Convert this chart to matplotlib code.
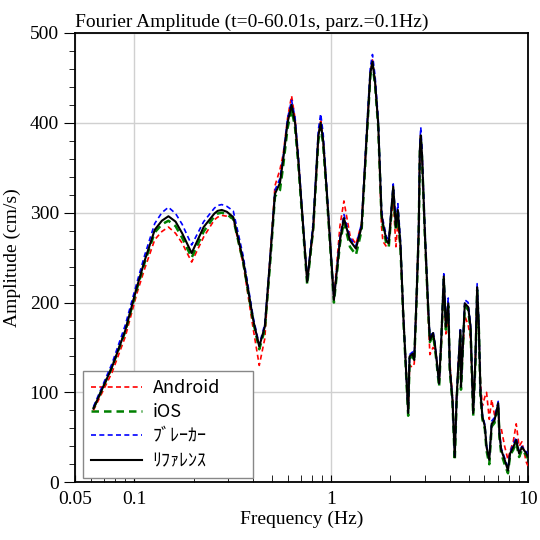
import numpy as np
import matplotlib
matplotlib.use("Agg")
import matplotlib.pyplot as plt
from matplotlib.ticker import FixedLocator, NullFormatter, MultipleLocator

plt.rcParams['font.family'] = ['Liberation Serif', 'DejaVu Serif']

# frequency samples (Hz)
freq = [0.062, 0.077, 0.090, 0.103, 0.113, 0.127, 0.138, 0.149, 0.162, 0.175,
        0.1955, 0.225, 0.255, 0.265, 0.278, 0.295, 0.318, 0.357, 0.402, 0.431,
        0.46, 0.489, 0.518, 0.549, 0.57, 0.60, 0.629, 0.655, 0.68, 0.755,
        0.81, 0.86, 0.884, 0.91, 0.948, 1.032, 1.107, 1.16, 1.245, 1.335,
        1.426, 1.51, 1.58, 1.62, 1.67, 1.732, 1.80, 1.83, 1.91, 1.96,
        2.065, 2.13, 2.18, 2.25, 2.32, 2.46, 2.50, 2.59, 2.64, 2.71,
        2.78, 2.82, 2.85, 2.89, 2.99, 3.11, 3.17, 3.29, 3.36, 3.43,
        3.53, 3.62, 3.73, 3.82, 3.93, 4.00, 4.13, 4.24, 4.33, 4.41,
        4.53, 4.56, 4.77, 4.96, 5.10, 5.26, 5.40, 5.51, 5.62, 5.73,
        5.86, 6.03, 6.15, 6.35, 6.53, 6.75, 7.05, 7.15, 7.30, 7.60,
        7.90, 8.10, 8.40, 8.70, 9.00, 9.30, 9.80, 10.0]

ref = [82, 128, 169, 217, 247, 281, 291, 296, 290, 277,
       255, 284, 299, 302, 303, 301, 295, 247, 180, 151,
       173, 247, 321, 333, 359, 400, 420, 400, 359, 223,
       284, 385, 400, 380, 325, 203, 269, 294, 269, 260,
       284, 381, 455, 468, 445, 399, 299, 288, 269, 266,
       329, 284, 303, 262, 188, 77, 140, 143, 136, 203,
       277, 370, 386, 365, 277, 192, 158, 166, 154, 136,
       110, 158, 229, 173, 199, 128, 91, 28, 91, 125,
       169, 106, 199, 195, 173, 77, 136, 217, 173, 99,
       73, 62, 39, 25, 65, 69, 88, 54, 36, 25,
       13, 32, 39, 47, 32, 39, 32, 28]

ios = [82, 128, 168, 215, 245, 278, 287, 291, 285, 272,
       250, 279, 296, 299, 300, 298, 293, 245, 178, 148,
       170, 243, 318, 325, 352, 394, 415, 395, 355, 220,
       282, 380, 396, 376, 322, 200, 265, 290, 262, 253,
       280, 378, 452, 465, 442, 396, 296, 285, 264, 262,
       325, 280, 300, 258, 186, 74, 138, 140, 135, 200,
       275, 368, 384, 362, 275, 190, 156, 164, 150, 133,
       106, 155, 226, 170, 196, 125, 88, 24, 88, 122,
       165, 103, 196, 192, 170, 74, 133, 214, 170, 96,
       70, 59, 35, 20, 62, 66, 85, 50, 32, 20,
       10, 30, 36, 44, 28, 36, 30, 26]

android = [80, 122, 162, 210, 238, 270, 279, 284, 277, 266,
           245, 273, 292, 295, 297, 296, 293, 243, 170, 130,
           160, 250, 330, 348, 365, 405, 430, 405, 360, 225,
           280, 385, 402, 382, 325, 205, 285, 313, 275, 265,
           288, 382, 455, 470, 448, 400, 285, 268, 262, 268,
           315, 262, 290, 258, 190, 80, 130, 128, 132, 205,
           280, 372, 388, 366, 278, 185, 142, 150, 148, 138,
           112, 150, 225, 165, 188, 135, 95, 32, 95, 130,
           160, 110, 185, 175, 160, 82, 140, 210, 165, 110,
           85, 95, 100, 70, 92, 75, 80, 58, 60, 40,
           25, 35, 45, 65, 40, 45, 22, 18]

breaker = [84, 132, 175, 222, 253, 288, 300, 306, 299, 287,
           264, 290, 305, 308, 309, 307, 302, 252, 183, 153,
           176, 250, 325, 338, 362, 405, 425, 406, 365, 225,
           290, 392, 410, 388, 330, 205, 272, 298, 272, 263,
           288, 388, 462, 476, 452, 405, 305, 292, 273, 270,
           332, 290, 310, 268, 190, 78, 142, 145, 138, 206,
           282, 378, 395, 372, 282, 195, 162, 168, 156, 137,
           110, 160, 232, 176, 205, 130, 93, 30, 93, 130,
           172, 108, 203, 200, 176, 80, 140, 221, 176, 101,
           75, 64, 41, 27, 68, 72, 90, 56, 38, 27,
           15, 34, 42, 50, 34, 40, 34, 30]

labels = ['Android', 'iOS', 'ﾌﾞﾚｰｶｰ', 'ﾘﾌｧﾚﾝｽ']

fig = plt.figure(figsize=(5.4, 5.4), dpi=100)
ax = fig.add_axes([0.139, 0.107, 0.839, 0.832])

ax.plot(freq, android, color='#ff0000', ls=(0, (3, 2)), lw=1.2, label=labels[0], zorder=3)
ax.plot(freq, ios, color='#008000', ls=(0, (3, 2)), lw=1.8, label=labels[1], zorder=3)
ax.plot(freq, breaker, color='#0000ff', ls=(0, (3, 2)), lw=1.2, label=labels[2], zorder=3)
ax.plot(freq, ref, color='black', lw=1.5, label=labels[3], zorder=4)

ax.set_xscale('log')
ax.set_xlim(0.05, 10)
ax.set_ylim(0, 500)

ax.xaxis.set_major_locator(FixedLocator([0.05, 0.1, 1, 10]))
ax.set_xticklabels(['0.05', '0.1', '1', '10'])
minors = [0.06, 0.07, 0.08, 0.09] + [k / 10 for k in range(2, 10)] + list(range(2, 10))
ax.xaxis.set_minor_locator(FixedLocator(minors))
ax.xaxis.set_minor_formatter(NullFormatter())
ax.yaxis.set_major_locator(MultipleLocator(100))
ax.yaxis.set_minor_locator(MultipleLocator(20))

ax.tick_params(axis='x', which='both', direction='in', length=5, labelsize=14, pad=6)
ax.tick_params(axis='y', which='major', direction='out', length=8, labelsize=14)
ax.tick_params(axis='y', which='minor', direction='out', length=4)

ax.grid(True, which='major', color='#d0d0d0', lw=1.0)
ax.set_axisbelow(True)
for s in ax.spines.values():
    s.set_linewidth(1.3)

ax.set_xlabel('Frequency (Hz)', fontsize=14, labelpad=2)
ax.set_ylabel('Amplitude (cm/s)', fontsize=14, labelpad=6)
ax.set_title('Fourier Amplitude (t=0-60.01s, parz.=0.1Hz)', fontsize=14, loc='left', pad=4)

leg = ax.legend(loc='lower left', bbox_to_anchor=(0.018, 0.009, 0.375, 0.2), mode='expand',
                borderaxespad=0,
                prop={'family': ['Noto Sans CJK JP', 'DejaVu Sans'], 'size': 13},
                fancybox=False, edgecolor='#888888', framealpha=1,
                handlelength=2.8, handletextpad=0.6, labelspacing=0.35,
                borderpad=0.45)
leg.set_zorder(2)

fig.savefig('out.png', dpi=100)
